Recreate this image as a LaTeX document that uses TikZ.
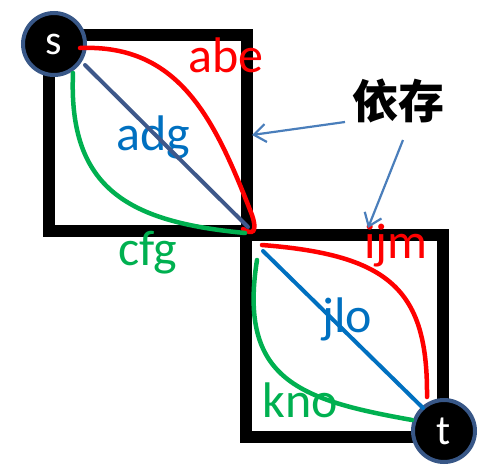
\documentclass[tikz,border=0pt]{standalone}
\usepackage{fontspec}
\newfontfamily\lblfont{Carlito}
\newfontfamily\cjkfont{Noto Sans CJK SC}
\usetikzlibrary{arrows.meta}

\definecolor{pathred}{RGB}{255,0,0}
\definecolor{pathgreen}{RGB}{0,176,80}
\definecolor{pathblue}{RGB}{0,112,192}
\definecolor{slateblue}{RGB}{62,88,138}
\definecolor{ringblue}{RGB}{56,87,135}
\definecolor{noteblue}{RGB}{74,126,187}

\begin{document}
\begin{tikzpicture}[
    x=1pt, y=-1pt,
    wall/.style={line width=12pt, line join=miter},
    vertex/.style={circle, draw=ringblue, line width=4pt, fill=black, text=white, minimum size=62pt, inner sep=0pt, font=\lblfont\fontsize{42}{42}\selectfont},
    lbl/.style={anchor=base, inner sep=0pt, font=\lblfont\fontsize{50}{50}\selectfont},
    route/.style={line width=4.5pt, line cap=round},
    note/.style={-{Straight Barb[length=12pt, width=18pt]}, noteblue, line width=2.2pt},
  ]
    \useasboundingbox (0,0) rectangle (483,466);

    % Boxes
    \draw[wall] (80,35) -- (247,35) -- (247,231);
    \draw[wall] (49,60) -- (49,231) -- (247,231);
    \draw[wall] (246,232) -- (246,437) -- (420,437);
    \draw[wall] (246,235) -- (443,235) -- (443,410);

    % Labels
    \node[lbl, text=pathred] (abe) at (226,72) {abe};
    \node[lbl, text=pathblue] (adg) at (153,150) {adg};
    \node[lbl, text=pathgreen] (cfg) at (148,265) {cfg};
    \node[lbl, text=pathred] (ijm) at (396,258) {ijm};
    \node[lbl, text=pathblue] (jlo) at (347,332) {jlo};
    \node[lbl, text=pathgreen] (kno) at (300,417) {kno};
    \node[inner sep=0pt, font=\cjkfont\bfseries\fontsize{46}{46}\selectfont] (dep) at (398,101) {依存};

    % Nodes
    \node[vertex] (s) at (54,44) {s};
    \node[vertex] (t) at (444,431) {t};

    % Route ends
    \coordinate (abeS) at (80,48);
    \coordinate (abeE) at (243,229);
    \coordinate (adgS) at (85,65);
    \coordinate (adgE) at (248,227);
    \coordinate (cfgS) at (73,73);
    \coordinate (cfgE) at (245,233);
    \coordinate (ijmS) at (262,245);
    \coordinate (ijmE) at (427,397);
    \coordinate (jloS) at (263,251);
    \coordinate (jloE) at (423,408);
    \coordinate (knoS) at (257,260);
    \coordinate (knoE) at (412,420);

    % Routes
    \draw[route, pathred] (abeS) .. controls (180,44) and (215,120) .. (252,215) .. controls (258,233) and (252,235) .. (abeE);
    \draw[route, slateblue, line width=4pt] (adgS) -- (adgE);
    \draw[route, pathgreen] (cfgS) .. controls (68,190) and (130,222) .. (cfgE);
    \draw[route, pathred] (ijmS) .. controls (390,255) and (428,290) .. (ijmE);
    \draw[route, pathblue, line width=4pt] (jloS) -- (jloE);
    \draw[route, pathgreen] (knoS) .. controls (238,380) and (300,400) .. (knoE);

    % Arrows
    \coordinate (depA) at (345,122);
    \coordinate (depB) at (403,140);
    \coordinate (wallA) at (252,135);
    \coordinate (wallB) at (368,228);
    \draw[note] (depA) -- (wallA);
    \draw[note] (depB) -- (wallB);

  \end{tikzpicture}
\end{document}
